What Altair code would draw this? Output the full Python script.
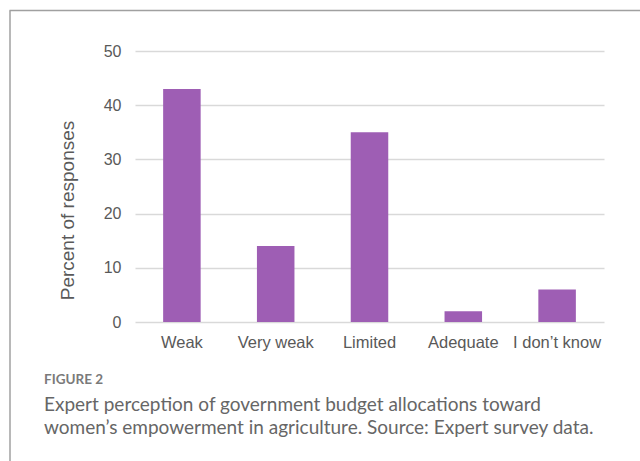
import altair as alt
import pandas as pd

categories = ["Weak", "Very weak", "Limited", "Adequate", "I don\u2019t know"]
values = [43, 14, 35, 2, 6]

fig_label = ["FIGURE 2"]
caption_lines = [
    "Expert perception of government budget allocations toward",
    "women\u2019s empowerment in agriculture. Source: Expert survey data.",
]

df = pd.DataFrame({"category": categories, "value": values})

W, H = 469, 271
PL, PT = 135, 51

bars = alt.Chart(df).mark_bar(color="#9E5EB4").encode(
    x=alt.X(
        "category:N",
        sort=categories,
        scale=alt.Scale(paddingInner=0.6, paddingOuter=0.3),
        axis=alt.Axis(
            title=None, domain=False, ticks=False, labelAngle=0, grid=False,
            labelFont="Liberation Sans", labelFontSize=16.5, labelColor="#595959",
            labelPadding=12,
        ),
    ),
    y=alt.Y(
        "value:Q",
        scale=alt.Scale(domain=[0, 50]),
        axis=alt.Axis(
            title="Percent of responses", values=[0, 10, 20, 30, 40, 50],
            domain=False, ticks=False, grid=True, gridColor="#D9D9D9", gridWidth=1.5,
            labelFont="Liberation Sans", labelFontSize=16, labelColor="#595959",
            labelPadding=14, titleFont="Liberation Sans", titleFontSize=19,
            titleFontWeight="normal", titleColor="#595959",
            titleX=67 - PL, titleY=210 - PT, titleAngle=270,
            titleAlign="center", titleBaseline="middle",
        ),
    ),
)

fig_df = pd.DataFrame({"t": fig_label})
fig_text = alt.Chart(fig_df).mark_text(
    align="left", baseline="alphabetic", font="Lato", fontSize=13.5,
    fontWeight="bold", color="#7a7a7a",
).encode(text="t:N", x=alt.value(44 - PL), y=alt.value(384 - PT))

cap_df = pd.DataFrame({"t": caption_lines})
cap1 = alt.Chart(cap_df.iloc[[0]]).mark_text(
    align="left", baseline="alphabetic", font="Lato", fontSize=19, color="#666666",
).encode(text="t:N", x=alt.value(44 - PL), y=alt.value(411 - PT))
cap2 = alt.Chart(cap_df.iloc[[1]]).mark_text(
    align="left", baseline="alphabetic", font="Lato", fontSize=19, color="#666666",
).encode(text="t:N", x=alt.value(44 - PL), y=alt.value(434 - PT))

frame_top = alt.Chart(pd.DataFrame({"a": [0]})).mark_rule(color="#A0A0A0", strokeWidth=1.5).encode(
    x=alt.value(9.5 - PL), x2=alt.value(640 - PL), y=alt.value(10.5 - PT)
)
frame_left = alt.Chart(pd.DataFrame({"a": [0]})).mark_rule(color="#A0A0A0", strokeWidth=1.5).encode(
    x=alt.value(10 - PL), y=alt.value(10.5 - PT), y2=alt.value(461 - PT)
)

chart = alt.layer(bars, fig_text, cap1, cap2, frame_top, frame_left).properties(
    width=W, height=H,
    background="white",
    autosize=alt.AutoSizeParams(type="none"),
    padding={"left": PL, "top": PT, "right": 640 - PL - W, "bottom": 461 - PT - H},
).configure_view(strokeWidth=0, stroke="transparent")

chart.save("out.html", embed_options={"renderer": "svg", "actions": False})
